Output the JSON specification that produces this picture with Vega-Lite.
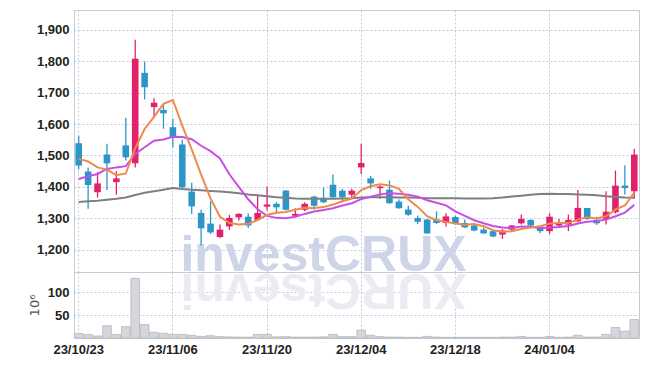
{
  "$schema": "https://vega.github.io/schema/vega-lite/v6.json",
  "padding": {"left": 27, "top": 9, "right": 9, "bottom": 5},
  "spacing": 0,
  "bounds": "flush",
  "config": {
    "view": {"stroke": "#c9c9d3"},
    "axis": {
      "labelFont": "Liberation Sans",
      "labelFontWeight": "bold",
      "labelColor": "#222222",
      "ticks": false,
      "tickSize": 0,
      "domain": false,
      "gridColor": "#c4c8de",
      "gridDash": [2, 2],
      "gridWidth": 1
    }
  },
  "datasets": {
    "k": [
      {"d": "23/10/23", "o": 1539, "h": 1563, "l": 1455, "c": 1468, "v": 9.7, "m5": 1489, "m10": 1425, "m60": 1352},
      {"d": "23/10/24", "o": 1449, "h": 1462, "l": 1330, "c": 1406, "v": 7.5, "m5": 1481, "m10": 1434, "m60": 1354},
      {"d": "23/10/25", "o": 1383, "h": 1447, "l": 1366, "c": 1411, "v": 4.4, "m5": 1462, "m10": 1441, "m60": 1356},
      {"d": "23/10/26", "o": 1503, "h": 1537, "l": 1390, "c": 1475, "v": 27, "m5": 1455, "m10": 1457, "m60": 1359},
      {"d": "23/10/27", "o": 1415, "h": 1450, "l": 1375, "c": 1427, "v": 7.5, "m5": 1437.4, "m10": 1462, "m60": 1362},
      {"d": "23/10/30", "o": 1532, "h": 1620, "l": 1484, "c": 1494, "v": 25, "m5": 1442.6, "m10": 1466, "m60": 1366},
      {"d": "23/10/31", "o": 1475, "h": 1868, "l": 1462, "c": 1808, "v": 131, "m5": 1523, "m10": 1505, "m60": 1374},
      {"d": "23/11/01", "o": 1763, "h": 1799, "l": 1678, "c": 1717, "v": 29.5, "m5": 1584.2, "m10": 1526, "m60": 1381},
      {"d": "23/11/02", "o": 1654, "h": 1682, "l": 1622, "c": 1668, "v": 12.5, "m5": 1622.8, "m10": 1547, "m60": 1386},
      {"d": "23/11/03", "o": 1645, "h": 1663, "l": 1585, "c": 1634, "v": 10.3, "m5": 1664.2, "m10": 1550.8, "m60": 1391},
      {"d": "23/11/06", "o": 1590, "h": 1617, "l": 1526, "c": 1556, "v": 8.1, "m5": 1676.6, "m10": 1559.6, "m60": 1396},
      {"d": "23/11/07", "o": 1535, "h": 1550, "l": 1394, "c": 1399, "v": 8, "m5": 1594.8, "m10": 1558.9, "m60": 1393},
      {"d": "23/11/08", "o": 1385, "h": 1413, "l": 1314, "c": 1338, "v": 6, "m5": 1519, "m10": 1551.6, "m60": 1391},
      {"d": "23/11/09", "o": 1317, "h": 1327, "l": 1213, "c": 1268, "v": 3.5, "m5": 1439, "m10": 1530.9, "m60": 1389},
      {"d": "23/11/10", "o": 1283, "h": 1354, "l": 1250, "c": 1255, "v": 5, "m5": 1363.2, "m10": 1513.7, "m60": 1387},
      {"d": "23/11/13", "o": 1240, "h": 1280, "l": 1238, "c": 1264, "v": 3, "m5": 1304.8, "m10": 1490.7, "m60": 1385},
      {"d": "23/11/14", "o": 1274, "h": 1311, "l": 1263, "c": 1301, "v": 2.5, "m5": 1285.2, "m10": 1440, "m60": 1383},
      {"d": "23/11/15", "o": 1303, "h": 1316, "l": 1293, "c": 1314, "v": 2, "m5": 1280.4, "m10": 1399.7, "m60": 1380},
      {"d": "23/11/16", "o": 1305, "h": 1316, "l": 1269, "c": 1277, "v": 2, "m5": 1282.2, "m10": 1360.6, "m60": 1376},
      {"d": "23/11/17", "o": 1295, "h": 1372, "l": 1293, "c": 1317, "v": 8, "m5": 1294.6, "m10": 1328.9, "m60": 1373},
      {"d": "23/11/20", "o": 1337, "h": 1401, "l": 1325, "c": 1344, "v": 8, "m5": 1310.6, "m10": 1307.7, "m60": 1370},
      {"d": "23/11/21", "o": 1346, "h": 1351, "l": 1316, "c": 1335, "v": 2.5, "m5": 1317.4, "m10": 1301.3, "m60": 1367},
      {"d": "23/11/22", "o": 1388, "h": 1390, "l": 1325, "c": 1327, "v": 3, "m5": 1320, "m10": 1300.2, "m60": 1365},
      {"d": "23/11/23", "o": 1308, "h": 1332, "l": 1305, "c": 1314, "v": 2, "m5": 1327.4, "m10": 1304.8, "m60": 1363},
      {"d": "23/11/24", "o": 1327, "h": 1351, "l": 1322, "c": 1346, "v": 2, "m5": 1333.2, "m10": 1313.9, "m60": 1362},
      {"d": "23/11/27", "o": 1369, "h": 1372, "l": 1327, "c": 1340, "v": 2, "m5": 1332.4, "m10": 1321.5, "m60": 1362},
      {"d": "23/11/28", "o": 1365, "h": 1397, "l": 1348, "c": 1351, "v": 2.5, "m5": 1335.6, "m10": 1326.5, "m60": 1362},
      {"d": "23/11/29", "o": 1407, "h": 1439, "l": 1365, "c": 1367, "v": 8, "m5": 1343.6, "m10": 1331.8, "m60": 1362},
      {"d": "23/11/30", "o": 1388, "h": 1394, "l": 1351, "c": 1367, "v": 3, "m5": 1354.2, "m10": 1340.8, "m60": 1363},
      {"d": "23/12/01", "o": 1375, "h": 1394, "l": 1362, "c": 1388, "v": 3, "m5": 1362.6, "m10": 1347.9, "m60": 1364},
      {"d": "23/12/04", "o": 1462, "h": 1537, "l": 1441, "c": 1476, "v": 17, "m5": 1389.8, "m10": 1361.1, "m60": 1366},
      {"d": "23/12/05", "o": 1427, "h": 1435, "l": 1394, "c": 1411, "v": 6, "m5": 1401.8, "m10": 1368.7, "m60": 1367},
      {"d": "23/12/06", "o": 1396, "h": 1404, "l": 1362, "c": 1401, "v": 3, "m5": 1408.6, "m10": 1376.1, "m60": 1367},
      {"d": "23/12/07", "o": 1391, "h": 1420, "l": 1346, "c": 1348, "v": 2, "m5": 1404.8, "m10": 1379.5, "m60": 1367},
      {"d": "23/12/08", "o": 1353, "h": 1360, "l": 1330, "c": 1332, "v": 2, "m5": 1393.6, "m10": 1378.1, "m60": 1366},
      {"d": "23/12/11", "o": 1328, "h": 1340, "l": 1308, "c": 1311, "v": 1.5, "m5": 1360.6, "m10": 1375.2, "m60": 1366},
      {"d": "23/12/12", "o": 1301, "h": 1309, "l": 1282, "c": 1289, "v": 1.5, "m5": 1336.2, "m10": 1369, "m60": 1365},
      {"d": "23/12/13", "o": 1296, "h": 1298, "l": 1250, "c": 1252, "v": 3.5, "m5": 1306.4, "m10": 1357.5, "m60": 1364},
      {"d": "23/12/14", "o": 1296, "h": 1322, "l": 1282, "c": 1285, "v": 2, "m5": 1293.8, "m10": 1349.3, "m60": 1364},
      {"d": "23/12/15", "o": 1285, "h": 1316, "l": 1274, "c": 1306, "v": 1.5, "m5": 1288.6, "m10": 1341.1, "m60": 1364},
      {"d": "23/12/18", "o": 1304, "h": 1308, "l": 1280, "c": 1284, "v": 1.5, "m5": 1283.2, "m10": 1321.9, "m60": 1364},
      {"d": "23/12/19", "o": 1285, "h": 1296, "l": 1269, "c": 1271, "v": 1.5, "m5": 1279.6, "m10": 1307.9, "m60": 1363},
      {"d": "23/12/20", "o": 1277, "h": 1282, "l": 1259, "c": 1261, "v": 1.5, "m5": 1281.4, "m10": 1293.9, "m60": 1363},
      {"d": "23/12/21", "o": 1264, "h": 1271, "l": 1250, "c": 1252, "v": 1.5, "m5": 1274.8, "m10": 1284.3, "m60": 1363},
      {"d": "23/12/22", "o": 1259, "h": 1263, "l": 1240, "c": 1242, "v": 1.5, "m5": 1262, "m10": 1275.3, "m60": 1364},
      {"d": "23/12/26", "o": 1248, "h": 1266, "l": 1234, "c": 1261, "v": 2, "m5": 1257.4, "m10": 1270.3, "m60": 1366},
      {"d": "23/12/27", "o": 1264, "h": 1279, "l": 1258, "c": 1277, "v": 2, "m5": 1258.6, "m10": 1269.1, "m60": 1369},
      {"d": "23/12/28", "o": 1284, "h": 1312, "l": 1280, "c": 1298, "v": 3.5, "m5": 1266, "m10": 1273.7, "m60": 1372},
      {"d": "24/01/02", "o": 1295, "h": 1296, "l": 1272, "c": 1277, "v": 1.5, "m5": 1271, "m10": 1272.9, "m60": 1375},
      {"d": "24/01/03", "o": 1274, "h": 1277, "l": 1252, "c": 1259, "v": 1.5, "m5": 1274.4, "m10": 1268.2, "m60": 1377},
      {"d": "24/01/04", "o": 1259, "h": 1316, "l": 1250, "c": 1305, "v": 3.5, "m5": 1283.2, "m10": 1270.3, "m60": 1378},
      {"d": "24/01/05", "o": 1277, "h": 1298, "l": 1272, "c": 1287, "v": 1.5, "m5": 1285.2, "m10": 1271.9, "m60": 1377},
      {"d": "24/01/08", "o": 1280, "h": 1312, "l": 1259, "c": 1295, "v": 2, "m5": 1284.6, "m10": 1275.3, "m60": 1377},
      {"d": "24/01/09", "o": 1290, "h": 1390, "l": 1287, "c": 1333, "v": 6, "m5": 1295.8, "m10": 1283.4, "m60": 1376},
      {"d": "24/01/10", "o": 1333, "h": 1333, "l": 1295, "c": 1298, "v": 2, "m5": 1303.6, "m10": 1289, "m60": 1375},
      {"d": "24/01/11", "o": 1295, "h": 1305, "l": 1279, "c": 1284, "v": 2, "m5": 1299.4, "m10": 1291.3, "m60": 1373},
      {"d": "24/01/12", "o": 1298, "h": 1386, "l": 1280, "c": 1321, "v": 8, "m5": 1306.2, "m10": 1295.7, "m60": 1370},
      {"d": "24/01/15", "o": 1319, "h": 1452, "l": 1315, "c": 1404, "v": 23, "m5": 1328, "m10": 1306.3, "m60": 1368},
      {"d": "24/01/16", "o": 1404, "h": 1468, "l": 1376, "c": 1396, "v": 15, "m5": 1340.6, "m10": 1318.2, "m60": 1366},
      {"d": "24/01/17", "o": 1386, "h": 1521, "l": 1363, "c": 1503, "v": 40.5, "m5": 1381.6, "m10": 1342.6, "m60": 1365}
    ]
  },
  "vconcat": [
    {
      "width": 565,
      "height": 262,
      "data": {"name": "k"},
      "encoding": {
        "x": {
          "field": "d",
          "type": "ordinal",
          "scale": {"paddingInner": 0, "paddingOuter": 0},
          "axis": {
            "values": ["23/10/23", "23/11/06", "23/11/20", "23/12/04", "23/12/18", "24/01/04"],
            "labels": false,
            "title": null,
            "grid": true,
            "bandPosition": 0.5
          }
        }
      },
      "layer": [
        {
          "data": {"values": [{"w": "investCRUX"}]},
          "mark": {"type": "text", "font": "Liberation Sans", "fontWeight": "bold", "fontSize": 50, "color": "#cfd5e8", "align": "center", "baseline": "alphabetic"},
          "encoding": {
            "x": {"datum": "23/11/28", "type": "ordinal"},
            "y": {
              "datum": 1133,
              "type": "quantitative",
              "scale": {"domain": [1129, 1963], "zero": false, "nice": false},
              "axis": {"values": [1200, 1300, 1400, 1500, 1600, 1700, 1800, 1900], "format": ",d", "title": null, "grid": true, "labelFontSize": 13, "labelPadding": 5}
            },
            "text": {"field": "w"}
          }
        },
        {
          "mark": {"type": "rule", "strokeWidth": 1.3},
          "encoding": {
            "y": {
              "field": "l",
              "type": "quantitative",
              "scale": {"domain": [1129, 1963], "zero": false, "nice": false},
              "axis": {"values": [1200, 1300, 1400, 1500, 1600, 1700, 1800, 1900], "format": ",d", "title": null, "grid": true, "labelFontSize": 13, "labelPadding": 5}
            },
            "y2": {"field": "h"},
            "color": {"condition": {"test": "datum.c >= datum.o", "value": "#e3206a"}, "value": "#2c96c9"}
          }
        },
        {
          "mark": {"type": "bar", "width": {"band": 0.7}},
          "encoding": {
            "y": {
              "field": "o",
              "type": "quantitative",
              "scale": {"domain": [1129, 1963], "zero": false, "nice": false},
              "axis": {"values": [1200, 1300, 1400, 1500, 1600, 1700, 1800, 1900], "format": ",d", "title": null, "grid": true, "labelFontSize": 13, "labelPadding": 5}
            },
            "y2": {"field": "c"},
            "color": {"condition": {"test": "datum.c >= datum.o", "value": "#e3206a"}, "value": "#2c96c9"}
          }
        },
        {
          "mark": {"type": "line", "color": "#7f7f7f", "strokeWidth": 2},
          "encoding": {
            "y": {
              "field": "m60",
              "type": "quantitative",
              "scale": {"domain": [1129, 1963], "zero": false, "nice": false},
              "axis": {"values": [1200, 1300, 1400, 1500, 1600, 1700, 1800, 1900], "format": ",d", "title": null, "grid": true, "labelFontSize": 13, "labelPadding": 5}
            }
          }
        },
        {
          "mark": {"type": "line", "color": "#c84fe6", "strokeWidth": 2},
          "encoding": {
            "y": {
              "field": "m10",
              "type": "quantitative",
              "scale": {"domain": [1129, 1963], "zero": false, "nice": false},
              "axis": {"values": [1200, 1300, 1400, 1500, 1600, 1700, 1800, 1900], "format": ",d", "title": null, "grid": true, "labelFontSize": 13, "labelPadding": 5}
            }
          }
        },
        {
          "mark": {"type": "line", "color": "#ee8a4e", "strokeWidth": 2},
          "encoding": {
            "y": {
              "field": "m5",
              "type": "quantitative",
              "scale": {"domain": [1129, 1963], "zero": false, "nice": false},
              "axis": {"values": [1200, 1300, 1400, 1500, 1600, 1700, 1800, 1900], "format": ",d", "title": null, "grid": true, "labelFontSize": 13, "labelPadding": 5}
            }
          }
        }
      ]
    },
    {
      "width": 565,
      "height": 66,
      "data": {"name": "k"},
      "encoding": {
        "x": {
          "field": "d",
          "type": "ordinal",
          "scale": {"paddingInner": 0, "paddingOuter": 0},
          "axis": {
            "values": ["23/10/23", "23/11/06", "23/11/20", "23/12/04", "23/12/18", "24/01/04"],
            "labelAngle": 0,
            "labelFontSize": 13,
            "labelPadding": 5,
            "title": null,
            "grid": true,
            "bandPosition": 0.5
          }
        }
      },
      "layer": [
        {
          "data": {"values": [{"w": "XURCtsevni"}]},
          "mark": {"type": "text", "font": "Liberation Sans", "fontWeight": "bold", "fontSize": 50, "color": "#ebecf2", "align": "center", "baseline": "alphabetic", "angle": 180},
          "encoding": {
            "x": {"datum": "23/11/28", "type": "ordinal"},
            "y": {
              "datum": 140,
              "type": "quantitative",
              "scale": {"domain": [0, 145], "nice": false},
              "axis": {"values": [50, 100], "title": "10⁶", "titleFont": "DejaVu Sans", "titleFontWeight": "normal", "titleFontSize": 13, "titleColor": "#555555", "titlePadding": 6, "grid": true, "labelFontSize": 13, "labelPadding": 5}
            },
            "text": {"field": "w"}
          }
        },
        {
          "mark": {"type": "bar", "width": {"band": 0.92}, "fill": "#d6d6dd", "stroke": "#b6b6be", "strokeWidth": 0.8},
          "encoding": {
            "y": {
              "field": "v",
              "type": "quantitative",
              "scale": {"domain": [0, 145], "nice": false},
              "axis": {"values": [50, 100], "title": "10⁶", "titleFont": "DejaVu Sans", "titleFontWeight": "normal", "titleFontSize": 13, "titleColor": "#555555", "titlePadding": 6, "grid": true, "labelFontSize": 13, "labelPadding": 5}
            }
          }
        }
      ]
    }
  ]
}
